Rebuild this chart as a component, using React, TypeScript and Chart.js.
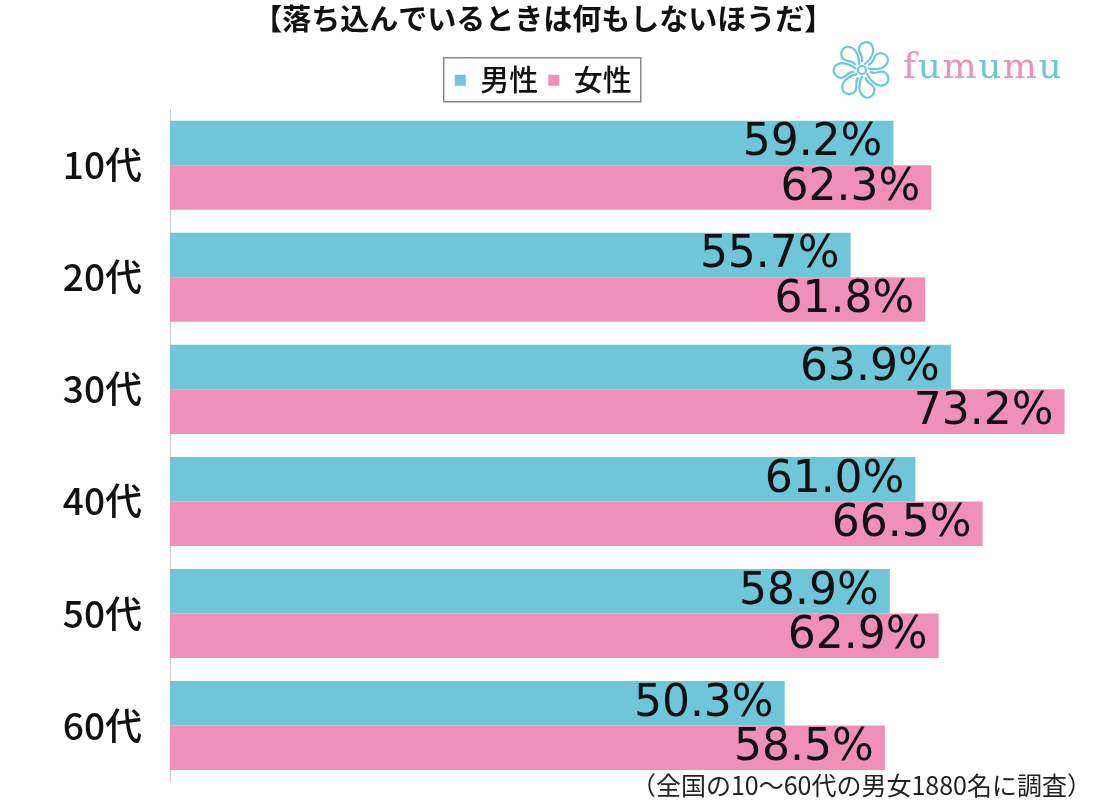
import React, { useEffect, useRef } from "react";
import { Chart, registerables } from "chart.js";

Chart.register(...registerables);

const categories = ["10代", "20代", "30代", "40代", "50代", "60代"];
const maleValues = [59.2, 55.7, 63.9, 61.0, 58.9, 50.3];
const femaleValues = [62.3, 61.8, 73.2, 66.5, 62.9, 58.5];
const seriesNames = ["男性", "女性"];
const titleText = "【落ち込んでいるときは何もしないほうだ】";
const footnoteText = "（全国の10～60代の男女1880名に調査）";

const MALE_COLOR = "#6fc6d9";
const FEMALE_COLOR = "#ef90b8";
const JP_FONT = "'Noto Sans CJK JP', 'Noto Sans', sans-serif";

const valueLabelPlugin = {
  id: "valueLabels",
  afterDatasetsDraw(chart: any) {
    const ctx = chart.ctx;
    ctx.save();
    ctx.font = "44px 'DejaVu Sans', sans-serif";
    ctx.fillStyle = "#111";
    ctx.textAlign = "right";
    ctx.textBaseline = "middle";
    chart.data.datasets.forEach((ds: any, di: number) => {
      const meta = chart.getDatasetMeta(di);
      meta.data.forEach((el: any, i: number) => {
        const v = ds.data[i];
        ctx.fillText(v.toFixed(1) + "%", el.x - 11, el.y + 1);
      });
    });
    ctx.restore();
  },
};

const legendBoxPlugin = {
  id: "legendBox",
  afterDraw(chart: any) {
    const lg = chart.legend;
    if (!lg || !lg.legendHitBoxes || !lg.legendHitBoxes.length) return;
    const boxes = lg.legendHitBoxes;
    const first = boxes[0];
    const last = boxes[boxes.length - 1];
    const ctx = chart.ctx;
    ctx.save();
    ctx.strokeStyle = "#888";
    ctx.lineWidth = 1.5;
    const left = first.left - 11;
    const right = last.left + last.width + 9;
    const top = first.top - 8;
    const bottom = first.top + first.height + 7;
    ctx.strokeRect(left, top, right - left, bottom - top);
    ctx.restore();
  },
};

const footnotePlugin = {
  id: "footnote",
  afterDraw(chart: any) {
    const ctx = chart.ctx;
    ctx.save();
    ctx.font = "25px " + JP_FONT;
    ctx.fillStyle = "#222";
    ctx.textAlign = "right";
    ctx.textBaseline = "middle";
    ctx.fillText(footnoteText, 1092, 785);
    ctx.restore();
  },
};

function Logo() {
  const petals = [0, 1, 2, 3, 4, 5, 6];
  const letters = ["f", "u", "m", "u", "m", "u"];
  return (
    <div style={{ position: "absolute", left: 832, top: 40, width: 240, height: 60, pointerEvents: "none" }}>
      <svg width="62" height="60" style={{ position: "absolute", left: 0, top: 0 }}>
        <g transform="translate(30,30)" fill="none" stroke="#6fc6d9" strokeWidth="2.2" strokeLinecap="round">
          {petals.map((p) => (
            <path
              key={p}
              transform={`rotate(${p * (360 / 7)})`}
              d="M3,-6 C10,-12 14,-20 9,-26 C5,-30 -2,-27 -3,-22 C-4,-17 2,-14 0,-9"
            />
          ))}
          <circle cx="0" cy="0" r="4" />
        </g>
      </svg>
      <div
        style={{
          position: "absolute",
          left: 71,
          top: 2,
          fontFamily: "'DejaVu Serif', 'Liberation Serif', serif",
          fontSize: 36,
          letterSpacing: 1.5,
          lineHeight: "48px",
        }}
      >
        {letters.map((ch, i) => (
          <span key={i} style={{ color: i % 2 === 0 ? FEMALE_COLOR : MALE_COLOR }}>
            {ch}
          </span>
        ))}
      </div>
    </div>
  );
}

export default function App() {
  const canvasRef = useRef<HTMLCanvasElement | null>(null);

  useEffect(() => {
    if (!canvasRef.current) return;
    const chart = new Chart(canvasRef.current, {
      type: "bar",
      data: {
        labels: categories,
        datasets: [
          {
            label: seriesNames[0],
            data: maleValues,
            backgroundColor: MALE_COLOR,
            borderWidth: 0,
            categoryPercentage: 0.795,
            barPercentage: 1.0,
          },
          {
            label: seriesNames[1],
            data: femaleValues,
            backgroundColor: FEMALE_COLOR,
            borderWidth: 0,
            categoryPercentage: 0.795,
            barPercentage: 1.0,
          },
        ],
      },
      options: {
        indexAxis: "y",
        responsive: false,
        animation: false,
        layout: { padding: { left: 0, right: 15.5, top: 0, bottom: 18.4 } },
        plugins: {
          title: {
            display: true,
            text: titleText,
            color: "#111",
            font: { family: JP_FONT, size: 29, weight: "bold" },
            padding: { top: 2, bottom: 19 },
          },
          legend: {
            display: true,
            position: "top",
            labels: {
              color: "#111",
              font: { family: JP_FONT, size: 29, weight: "500" },
              boxWidth: 11,
              boxHeight: 11,
              padding: 10,
            },
          },
          tooltip: { enabled: false },
        },
        scales: {
          x: {
            position: "top",
            min: 0,
            max: 75,
            display: true,
            grid: { display: false, drawTicks: false },
            border: { display: false },
            ticks: { display: false },
            afterFit: (scale: any) => {
              scale.height = 4.4;
              scale.paddingLeft = 0;
              scale.paddingRight = 0;
            },
          },
          y: {
            grid: { display: false, drawTicks: false },
            border: { display: true, color: "#cfcfcf", width: 1 },
            ticks: {
              color: "#111",
              font: { family: JP_FONT, size: 37, weight: "500" },
              padding: 28,
            },
            afterFit: (scale: any) => {
              scale.width = 170;
              scale.paddingTop = 0;
              scale.paddingBottom = 0;
            },
          },
        },
      },
      plugins: [valueLabelPlugin, legendBoxPlugin, footnotePlugin],
    });
    return () => chart.destroy();
  }, []);

  return (
    <div style={{ position: "fixed", left: 0, top: 0, width: 1102, height: 800, background: "#fff" }}>
      <canvas ref={canvasRef} width={1102} height={800} style={{ width: 1102, height: 800, display: "block" }} />
      <Logo />
    </div>
  );
}
